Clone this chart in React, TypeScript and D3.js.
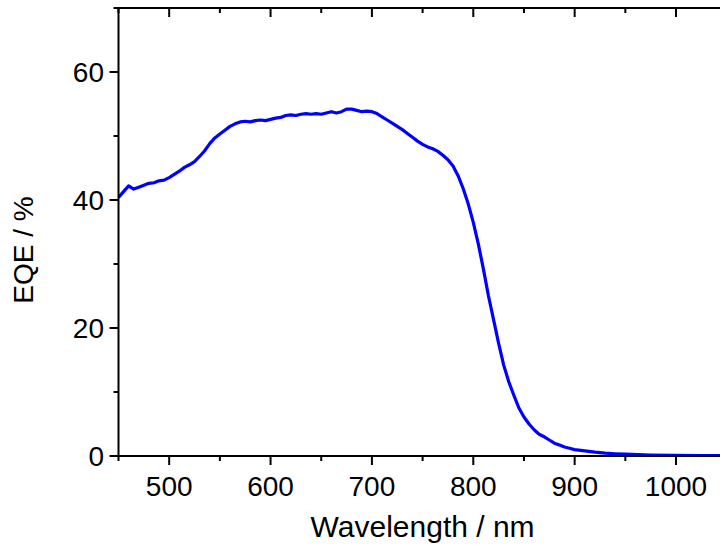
import React from 'react';
import * as d3 from 'd3';

// EQE spectrum
const wavelength = [
  450, 455, 460, 465, 470, 475, 480, 485, 490, 495,
  500, 505, 510, 515, 520, 525, 530, 535, 540, 545,
  550, 555, 560, 565, 570, 575, 580, 585, 590, 595,
  600, 605, 610, 615, 620, 625, 630, 635, 640, 645,
  650, 655, 660, 665, 670, 675, 680, 685, 690, 695,
  700, 705, 710, 715, 720, 725, 730, 735, 740, 745,
  750, 755, 760, 765, 770, 775, 780, 785, 790, 795,
  800, 805, 810, 815, 820, 825, 830, 835, 840, 845,
  850, 855, 860, 865, 870, 875, 880, 885, 890, 895,
  900, 910, 920, 930, 940, 950, 975, 1000, 1025, 1050,
];
const eqe = [
  40.4, 41.3, 42.2, 41.7, 42.0, 42.3, 42.6, 42.7, 43.0, 43.1,
  43.5, 44.0, 44.5, 45.1, 45.5, 46.0, 46.8, 47.7, 48.8, 49.7,
  50.3, 50.9, 51.5, 51.9, 52.2, 52.3, 52.2, 52.4, 52.5, 52.4,
  52.6, 52.8, 52.9, 53.2, 53.3, 53.2, 53.4, 53.5, 53.4, 53.5,
  53.4, 53.6, 53.8, 53.6, 53.8, 54.2, 54.2, 54.0, 53.8, 53.9,
  53.8, 53.5, 53.0, 52.5, 52.0, 51.5, 51.0, 50.4, 49.8, 49.2,
  48.7, 48.3, 48.0, 47.6, 47.0, 46.3, 45.3, 43.8, 41.8, 39.4,
  36.5, 33.1, 29.2, 25.0, 21.3, 17.6, 14.2, 11.6, 9.5, 7.5,
  6.1, 5.0, 4.1, 3.4, 3.0, 2.5, 2.0, 1.7, 1.4, 1.2,
  1.0, 0.8, 0.6, 0.45, 0.35, 0.28, 0.15, 0.1, 0.06, 0.05,
];

const xMajor = [500, 600, 700, 800, 900, 1000];
const xMinor = [450, 550, 650, 750, 850, 950, 1050];
const yMajor = [0, 20, 40, 60];
const yMinor = [10, 30, 50, 70];

const W = 720;
const H = 545;
const margin = { left: 118.5, top: 8, right: 726.7, bottom: 456 };
const font = "'Liberation Sans', Arial, sans-serif";

export default function App() {
  const x = d3.scaleLinear().domain([450, 1050]).range([margin.left, margin.right]);
  const y = d3.scaleLinear().domain([0, 70]).range([margin.bottom, margin.top]);

  const pts = wavelength.map((w, i) => [w, eqe[i]] as [number, number]);
  const line = d3.line<[number, number]>().x(d => x(d[0])).y(d => y(d[1]));

  const major = 9;
  const minor = 5;

  return (
    <div style={{ position: 'fixed', left: 0, top: 0 }}>
      <svg width={W} height={H} style={{ display: 'block', background: '#fff' }}>
        <defs>
          <clipPath id="plot">
            <rect x={margin.left} y={margin.top} width={margin.right - margin.left} height={margin.bottom - margin.top} />
          </clipPath>
        </defs>

        <path d={line(pts) || ''} fill="none" stroke="#0000ff" strokeWidth={3.2}
          strokeLinejoin="round" clipPath="url(#plot)" />

        {/* frame */}
        <rect x={margin.left} y={margin.top} width={margin.right - margin.left}
          height={margin.bottom - margin.top} fill="none" stroke="#000" strokeWidth={2} />

        {/* bottom ticks (outward) and top ticks (inward) */}
        {xMajor.map(v => (
          <g key={'xm' + v}>
            <line x1={x(v)} x2={x(v)} y1={margin.bottom} y2={margin.bottom + major} stroke="#000" strokeWidth={2} />
            <line x1={x(v)} x2={x(v)} y1={margin.top} y2={margin.top + major} stroke="#000" strokeWidth={2} />
            <text x={x(v)} y={496} textAnchor="middle" fontFamily={font} fontSize={28}>{v}</text>
          </g>
        ))}
        {xMinor.map(v => (
          <g key={'xn' + v}>
            <line x1={x(v)} x2={x(v)} y1={margin.bottom} y2={margin.bottom + minor} stroke="#000" strokeWidth={2} />
            <line x1={x(v)} x2={x(v)} y1={margin.top} y2={margin.top + minor} stroke="#000" strokeWidth={2} />
          </g>
        ))}

        {/* left ticks (outward) */}
        {yMajor.map(v => (
          <g key={'ym' + v}>
            <line x1={margin.left - major} x2={margin.left} y1={y(v)} y2={y(v)} stroke="#000" strokeWidth={2} />
            <text x={104} y={y(v)} dy="0.35em" textAnchor="end" fontFamily={font} fontSize={28}>{v}</text>
          </g>
        ))}
        {yMinor.map(v => (
          <line key={'yn' + v} x1={margin.left - minor} x2={margin.left} y1={y(v)} y2={y(v)} stroke="#000" strokeWidth={2} />
        ))}

        <text x={(margin.left + margin.right) / 2} y={537} textAnchor="middle"
          fontFamily={font} fontSize={30}>Wavelength / nm</text>
        <text transform={`translate(33, 250) rotate(-90)`} textAnchor="middle"
          fontFamily={font} fontSize={28}>EQE / %</text>
      </svg>
    </div>
  );
}
